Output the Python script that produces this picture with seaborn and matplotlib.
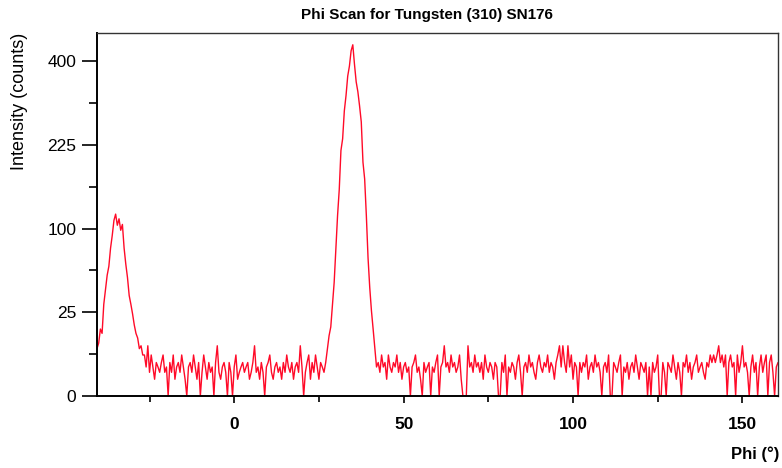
import numpy as np
import pandas as pd
import matplotlib
matplotlib.use("Agg")
import matplotlib.pyplot as plt
import seaborn as sns
from matplotlib.ticker import FixedLocator, NullFormatter

# ---------------- data ----------------
phi_start = -40.5      # first scan angle (deg)
phi_step = 0.5         # scan step (deg)

# left peak, phi -40.5 .. -27.0
peak1 = [8, 10, 16, 14, 30, 40, 52, 60, 78, 92,
         110, 118, 104, 112, 98, 105, 78, 62, 50, 36,
         30, 24, 18, 14, 12, 8, 9, 6]

# background, phi -26.5 .. 26.0
background_a = [6, 3, 9, 2, 6, 3, 1, 4, 3, 2,
                4, 6, 2, 3, 0, 4, 2, 6, 1, 3,
                4, 2, 6, 3, 1, 0, 3, 4, 2, 6,
                3, 1, 4, 0, 2, 6, 3, 1, 4, 2,
                3, 0, 4, 9, 2, 1, 3, 4, 2, 0,
                4, 2, 0, 3, 6, 1, 2, 3, 4, 2,
                3, 4, 1, 2, 4, 9, 2, 3, 1, 4,
                2, 0, 3, 4, 6, 2, 1, 3, 4, 2,
                3, 1, 4, 2, 6, 3, 2, 4, 1, 3,
                4, 2, 9, 3, 0, 2, 4, 6, 1, 4,
                2, 6, 3, 1, 4, 3]

# main peak, phi 26.5 .. 42.0
peak2 = [2, 4, 8, 13, 17, 30, 46, 78, 116, 152,
         215, 236, 290, 322, 365, 388, 425, 440, 392, 352,
         330, 300, 268, 195, 168, 116, 68, 42, 26, 16,
         8, 3]

# background, phi 42.5 .. 160.5
background_b = [4, 2, 6, 3, 4, 1, 6, 3, 2, 4,
                3, 6, 2, 4, 1, 3, 4, 2, 3, 0,
                3, 4, 6, 2, 3, 1, 0, 4, 2, 3,
                4, 0, 3, 2, 4, 6, 0, 3, 4, 9,
                3, 4, 2, 6, 3, 4, 2, 3, 6, 1,
                0, 0, 0, 9, 3, 4, 2, 6, 3, 4,
                2, 4, 1, 6, 3, 2, 4, 3, 1, 4,
                3, 0, 0, 4, 2, 6, 0, 3, 2, 4,
                3, 1, 4, 6, 2, 0, 3, 4, 2, 6,
                3, 4, 2, 1, 4, 6, 3, 2, 4, 3,
                6, 2, 4, 3, 1, 4, 6, 9, 3, 9,
                4, 2, 9, 3, 6, 1, 4, 3, 0, 4,
                2, 4, 3, 6, 1, 3, 4, 2, 6, 3,
                4, 2, 0, 3, 4, 2, 6, 0, 0, 4,
                3, 2, 4, 6, 0, 3, 2, 4, 1, 3,
                4, 2, 6, 3, 1, 4, 3, 2, 4, 0,
                3, 0, 4, 2, 3, 6, 0, 0, 4, 2,
                0, 4, 3, 2, 6, 3, 1, 4, 2, 0,
                4, 3, 6, 2, 4, 1, 3, 4, 6, 2,
                3, 4, 2, 1, 4, 3, 6, 4, 6, 4,
                6, 9, 4, 6, 3, 6, 0, 4, 6, 3,
                4, 0, 6, 2, 4, 9, 3, 4, 2, 0,
                3, 6, 2, 4, 0, 3, 6, 2, 4, 6,
                0, 4, 6, 2, 0, 3, 4]

y_major = [0, 25, 100, 225, 400]
y_minor = [6.25, 56.25, 156.25, 306.25]
x_major = [0, 50, 100, 150]
x_minor = [-25, 25, 75, 125]

title = "Phi Scan for Tungsten (310) SN176"
xlabel = "Phi (°)"
ylabel = "Intensity (counts)"

intensity = peak1 + background_a + peak2 + background_b
phi = phi_start + phi_step * np.arange(len(intensity))
df = pd.DataFrame({"phi": phi, "intensity": intensity})

# ---------------- figure ----------------
sns.set_theme(style="white")
plt.rcParams["font.family"] = ["Liberation Sans", "DejaVu Sans"]
plt.rcParams["text.color"] = "black"
plt.rcParams["axes.labelcolor"] = "black"

W, H = 782, 468
fig = plt.figure(figsize=(W / 100, H / 100), dpi=100)
ax = fig.add_axes([97 / W, 1 - 396 / H, (778 - 97) / W, (396 - 33) / H])

sns.lineplot(data=df, x="phi", y="intensity", ax=ax, color="#ff0a28",
             linewidth=1.0, estimator=None, sort=False)

fwd = lambda v: np.sqrt(np.clip(v, 0, None))
inv = lambda v: np.square(v)
ax.set_yscale("function", functions=(fwd, inv))
ax.set_ylim(0, 470)
ax.set_xlim(phi[0], phi[-1])

ax.yaxis.set_major_locator(FixedLocator(y_major))
ax.yaxis.set_minor_locator(FixedLocator(y_minor))
ax.set_yticklabels([str(v) for v in y_major])
ax.yaxis.set_minor_formatter(NullFormatter())
ax.xaxis.set_major_locator(FixedLocator(x_major))
ax.xaxis.set_minor_locator(FixedLocator(x_minor))
ax.set_xticklabels([str(v) for v in x_major], fontweight="bold")
ax.xaxis.set_minor_formatter(NullFormatter())

ax.tick_params(left=True, bottom=True, right=False, top=False, which="both")
ax.tick_params(axis="y", which="major", direction="out", length=11, width=1.2,
               color="black", labelsize=12.5, pad=4, labelcolor="black")
ax.tick_params(axis="y", which="minor", direction="out", length=5.5, width=1.2,
               color="black")
ax.tick_params(axis="x", which="major", direction="out", length=5, width=1.2,
               color="black", labelsize=12.5, pad=10, labelcolor="black")
ax.tick_params(axis="x", which="minor", direction="out", length=4.5, width=1.2,
               color="black")

for side in ("left", "bottom"):
    ax.spines[side].set_color("black")
    ax.spines[side].set_linewidth(1.4)
for side in ("top", "right"):
    ax.spines[side].set_color("#333333")
    ax.spines[side].set_linewidth(1.0)

ax.set_xlabel("")
ax.set_ylabel("")
fig.text(427 / W, 1 - 15 / H, title, ha="center", va="center",
         fontsize=11, fontweight="bold", color="black")
fig.text(20 / W, 1 - 101 / H, ylabel, ha="center", va="center",
         rotation=90, fontsize=13, color="black")
fig.text(779 / W, 1 - 454 / H, xlabel, ha="right", va="center",
         fontsize=12, fontweight="bold", color="black")

fig.savefig("out.png", dpi=100)
